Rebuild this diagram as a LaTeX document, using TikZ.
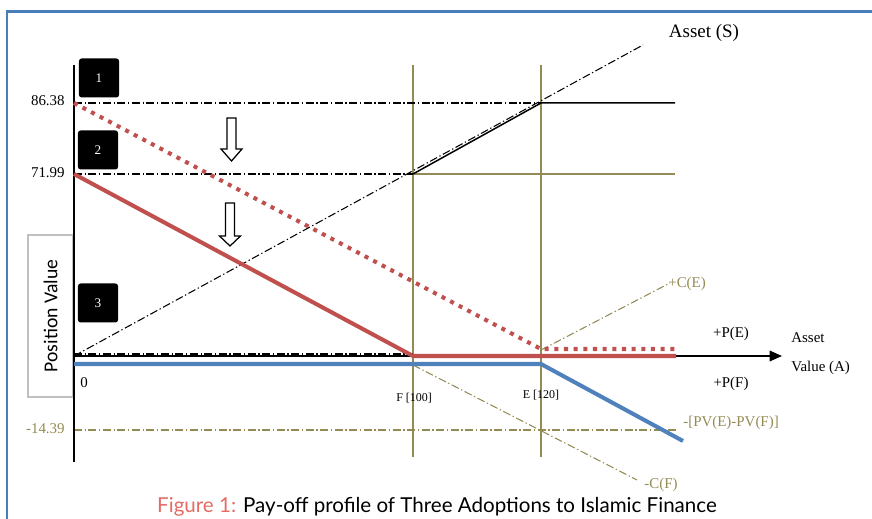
\documentclass[tikz,border=0pt]{standalone}
\usepackage{fontspec}
\setmainfont{Liberation Serif}
\newfontfamily\capfont{Lato}
\newfontfamily\posfont{Carlito}
\usetikzlibrary{arrows.meta}
\definecolor{payred}{HTML}{C0504D}
\definecolor{payblue}{HTML}{4F81BD}
\definecolor{payolive}{HTML}{948A54}
\definecolor{framecol}{HTML}{4A7EBB}
\definecolor{capred}{HTML}{E56B63}

\begin{document}
\begin{tikzpicture}[x=0.02cm,y=-0.02cm,
    dashdot/.style={dash pattern=on 4.5pt off 1.5pt on 0.75pt off 1.5pt, line width=0.6pt},
    grid/.style={payolive, line width=0.85pt},
    payoff/.style={line width=2.3pt},
    lbl/.style={inner sep=0pt, font=\fontsize{8.5}{10}\selectfont},
    small/.style={inner sep=0pt, font=\fontsize{6.8}{8}\selectfont},
    numbox/.style={fill=black, rounded corners=1.5pt, minimum width=22.8pt, minimum height=22.2pt,
      text=white, inner sep=0pt, font=\fontsize{7.5}{9}\selectfont}]
  \useasboundingbox (0,0) rectangle (872,519);
  % frame
  \draw[framecol, line width=1.7pt] (7,519) -- (7,12) -- (872,12);

  % key points
  \coordinate (O) at (74,356);
  \coordinate (ytop) at (74,65);
  \coordinate (ybot) at (74,462);
  \coordinate (xend) at (782,356);
  \coordinate (Ftop) at (413,65);
  \coordinate (Fbot) at (413,457);
  \coordinate (Etop) at (541,65);
  \coordinate (Ebot) at (541,457);
  \coordinate (FS) at (413,174);
  \coordinate (ES) at (541,103);
  \coordinate (Send) at (643,45);

  % position value box
  \node[draw=black!25, line width=0.6pt, minimum width=25.6pt, minimum height=92.2pt, inner sep=0pt]
    (posbox) at (50.5,316) {};
  \node[rotate=90, font=\posfont\fontsize{11.2}{13}\selectfont] (poslbl) at (posbox.center) {Position Value};

  % strike lines
  \draw[grid] (Ftop) -- (Fbot);
  \draw[grid] (Etop) -- (Ebot);
  \draw[grid] (FS) -- (675,174);

  % levels
  \draw[dashdot] (74,103) -- (ES);
  \draw[dashdot] (74,174) -- (FS);
  \draw[dashdot] (74,354) -- (413,354);
  \draw[dashdot, payolive] (74,430) -- (676,430);
  \draw[dashdot] (O) -- (Send);
  \draw[dashdot, payolive] (541,350) -- (670,283);
  \draw[dashdot, payolive] (413,365) -- (637,480);

  % asset payoff
  \draw[line width=0.85pt] (FS) -- (ES) -- (675,103);

  % axes
  \draw[line width=0.85pt] (ytop) -- (ybot);
  \draw[line width=0.85pt, -{Triangle[length=7pt,width=6pt]}] (O) -- (xend);

  % payoff profiles
  \draw[payoff, payblue] (74,364) -- (541,364) -- (683,441);
  \draw[payoff, payred] (74,174) -- (413,356) -- (676,356);
  \draw[payoff, payred, dash pattern=on 2.3pt off 3.2pt] (74,103) -- (541,349) -- (675,349);

  % down arrows
  \foreach \cx/\ty/\hy/\tip in {231.5/118/149/161, 230/203/236/246}
    \draw[line width=0.7pt, fill=white] (\cx-4.5,\ty) -- (\cx+4.5,\ty) -- (\cx+4.5,\hy) -- (\cx+10.5,\hy)
      -- (\cx,\tip) -- (\cx-10.5,\hy) -- (\cx-4.5,\hy) -- cycle;

  % numbered boxes
  \node[numbox] (box1) at (99,78) {1};
  \node[numbox] (box2) at (98,150) {2};
  \node[numbox] (box3) at (98,303) {3};

  % labels
  \node[lbl, anchor=east] (v1) at (65,101) {86.38};
  \node[lbl, anchor=east] (v2) at (65,173) {71.99};
  \node[lbl, anchor=east, payolive] (v3) at (65,429) {-14.39};
  \node[lbl] (zero) at (84,383) {0};
  \node[small] (Flbl) at (414,398) {F [100]};
  \node[small] (Elbl) at (541,395) {E [120]};
  \node[inner sep=0pt, font=\fontsize{10.8}{12}\selectfont] (Slbl) at (704,33) {Asset (S)};
  \node[lbl, payolive, anchor=west] (CE) at (668,284) {+C(E)};
  \node[lbl] (PE) at (731,334) {+P(E)};
  \node[lbl] (PF) at (731,384) {+P(F)};
  \node[lbl, anchor=west] (A1) at (791,338) {Asset};
  \node[lbl, anchor=west] (A2) at (791,368) {Value (A)};
  \node[lbl, payolive, anchor=west] (PV) at (683,423) {-[PV(E)-PV(F)]};
  \node[lbl, payolive] (CF) at (661,485) {-C(F)};

  % caption
  \node[inner sep=0pt, font=\capfont\fontsize{11.7}{14}\selectfont] (cap) at (437,507)
    {\textcolor{capred}{Figure 1:} Pay-off profile of Three Adoptions to Islamic Finance};
\end{tikzpicture}
\end{document}
